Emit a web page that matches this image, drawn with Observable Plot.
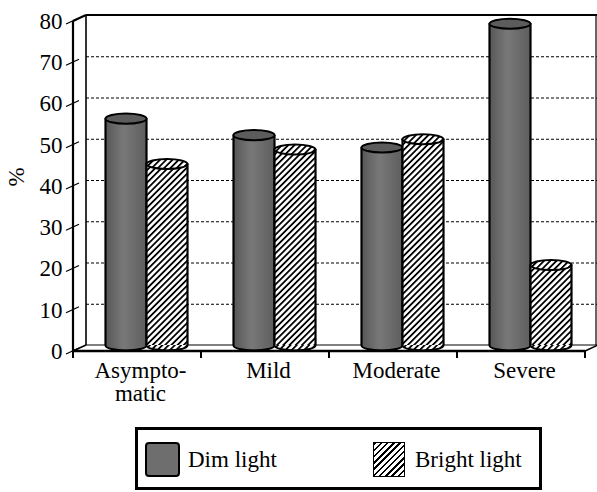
<!DOCTYPE html>
<html><head><meta charset="utf-8">
<script src="https://cdn.jsdelivr.net/npm/d3@7"></script>
<script src="https://cdn.jsdelivr.net/npm/@observablehq/plot@0.6"></script>
<style>
body{margin:0;background:#fff;font-family:"Liberation Serif","Times New Roman",Tinos,"DejaVu Serif",serif;}
#chart svg{display:block}
#legend{position:relative;margin-left:135px;margin-top:7px;width:407px;height:63px;box-sizing:border-box;border:3px solid #000;background:#fff;font-size:23px;color:#000}
.sw{position:absolute;top:12px;height:35px;box-sizing:border-box}
.dim{left:7px;width:35px;background:#6e6e6e;border:2.5px solid #000;border-radius:4px}
.bright{left:235px;width:32px;border:1px solid #000;background:repeating-linear-gradient(135deg,#000 0 1.8px,#fff 1.8px 4.4px)}
.lt{position:absolute;top:12px;line-height:35px;white-space:nowrap}
</style></head>
<body>
<div id="chart"></div>
<div id="legend">
  <div class="sw dim"></div><div class="lt" style="left:50px">Dim light</div>
  <div class="sw bright"></div><div class="lt" style="left:277px">Bright light</div>
</div>
<script>
const categories = ["Asymptomatic", "Mild", "Moderate", "Severe"];
const categoryLabels = ["Asympto-\nmatic", "Mild", "Moderate", "Severe"];
const dimLight = [55, 51, 48, 78];
const brightLight = [44, 47.5, 50, 19.5];
const yTicks = [0, 10, 20, 30, 40, 50, 60, 70, 80];

const FONT = '"Liberation Serif","Times New Roman",Tinos,"DejaVu Serif",serif';
const DX = 13, DY = -6;           // depth of the 3D box
const BAR_W = 41, SHIFT = 9;      // cylinder width, offset of the pair
const dimData = categories.map((c, i) => ({c, v: dimLight[i]}));
const brightData = categories.map((c, i) => ({c, v: brightLight[i]}));

const ellipse = {
  draw(ctx, size) {
    const rx = Math.sqrt(size / Math.PI), ry = rx * 0.245, k = 0.5523;
    ctx.moveTo(rx, 0);
    ctx.bezierCurveTo(rx, k * ry, k * rx, ry, 0, ry);
    ctx.bezierCurveTo(-k * rx, ry, -rx, k * ry, -rx, 0);
    ctx.bezierCurveTo(-rx, -k * ry, -k * rx, -ry, 0, -ry);
    ctx.bezierCurveTo(k * rx, -ry, rx, -k * ry, rx, 0);
    ctx.closePath();
  }
};

function walls(index, scales, values, dim) {
  const y = scales.y, x = scales.x;
  const x0 = dim.marginLeft, x1 = dim.width - dim.marginRight;
  const yb = y(0), yt = y(80);
  const g = d3.create("svg:g").attr("fill", "none").attr("stroke", "#000");
  const line = (a, b, c, d, w) => g.append("line").attr("x1", a).attr("y1", b).attr("x2", c).attr("y2", d).attr("stroke-width", w);
  // back wall
  line(x0 + DX, yt + DY, x1 + DX, yt + DY, 2.2);
  line(x0 + DX, yt + DY, x0 + DX, yb + DY, 1.6);
  line(x1 + DX - 2, yt + DY, x1 + DX - 2, yb + DY, 1.2);
  // floor
  line(x0 + DX, yb + DY, x1 + DX, yb + DY, 1);
  line(x0, yb, x0 + DX, yb + DY, 1.5);
  line(x1, yb, x1 + DX, yb + DY, 1.5);
  // front axis
  line(x0, yt, x0, yb, 2.2);
  line(x0, yt, x0 + DX, yt + DY, 2.2);
  // y ticks (slanted)
  for (const t of yTicks) line(x0 - 7, y(t) + 3, x0 + 6, y(t) - 3, 1.3);
  return g.node();
}

function frontFloor(index, scales, values, dim) {
  const x = scales.x, yb = scales.y(0);
  const x0 = dim.marginLeft, x1 = dim.width - dim.marginRight;
  const g = d3.create("svg:g").attr("fill", "none").attr("stroke", "#000");
  g.append("line").attr("x1", x0 - 1).attr("y1", yb).attr("x2", x1).attr("y2", yb).attr("stroke-width", 2.5);
  const bounds = categories.map(c => x(c)).concat([x1]);
  for (const b of bounds) g.append("line").attr("x1", b).attr("y1", yb).attr("x2", b).attr("y2", yb + 7).attr("stroke-width", 2);
  return g.node();
}

function cylinder(data, dx, fill, topFill) {
  return [
    Plot.dot(data, {x: "c", y: () => 0, r: BAR_W / 2, symbol: ellipse, fill, stroke: "#000", strokeWidth: 2, dx, dy: DY}),
    Plot.barY(data, {x: "c", y: "v", fill, insetLeft: 43.5, insetRight: 43.5, dx, dy: DY}),
    Plot.ruleX(data, {x: "c", y1: () => 0, y2: "v", stroke: "#000", strokeWidth: 2.2, dx: dx - BAR_W / 2, dy: DY}),
    Plot.ruleX(data, {x: "c", y1: () => 0, y2: "v", stroke: "#000", strokeWidth: 2.2, dx: dx + BAR_W / 2, dy: DY}),
    Plot.dot(data, {x: "c", y: "v", r: BAR_W / 2, symbol: ellipse, fill: topFill, stroke: "#000", strokeWidth: 2, dx, dy: DY})
  ];
}

const chart = Plot.plot({
  width: 597,
  height: 420,
  marginTop: 21,
  marginBottom: 69,
  marginLeft: 73,
  marginRight: 12,
  style: {fontFamily: FONT, fontSize: "23px", background: "white", overflow: "visible", color: "#000"},
  x: {domain: categories, padding: 0, axis: null},
  y: {domain: [0, 80], axis: null},
  marks: [
    Plot.ruleY(yTicks.filter(t => t > 0 && t < 80), {y: d => d, dx: DX, dy: DY, stroke: "#000", strokeWidth: 1, strokeDasharray: "3,2"}),
    walls,
    ...cylinder(dimData, SHIFT - BAR_W / 2, "url(#dimGrad)", "#5c5c5c"),
    ...cylinder(brightData, SHIFT + BAR_W / 2, "url(#hatch)", "url(#hatch)"),
    frontFloor,
    Plot.text(yTicks, {y: d => d, text: d => String(d), frameAnchor: "left", textAnchor: "end", dx: -11, fill: "#000"}),
    Plot.text(categories, {x: d => d, y: () => 0, text: (d, i) => categoryLabels[i], lineAnchor: "top", lineHeight: 1, dy: 10, dx: 3, fill: "#000"}),
    Plot.text(["%"], {frameAnchor: "left", text: d => d, rotate: -90, dx: -57, fill: "#000"})
  ]
});

const defs = d3.select(chart).insert("defs", ":first-child");
const grad = defs.append("linearGradient").attr("id", "dimGrad").attr("x1", "0").attr("x2", "1").attr("y1", "0").attr("y2", "0");
grad.append("stop").attr("offset", "0").attr("stop-color", "#575757");
grad.append("stop").attr("offset", "0.45").attr("stop-color", "#787878");
grad.append("stop").attr("offset", "1").attr("stop-color", "#5e5e5e");
const pat = defs.append("pattern").attr("id", "hatch").attr("patternUnits", "userSpaceOnUse")
  .attr("width", 4.4).attr("height", 4.4).attr("patternTransform", "rotate(45)");
pat.append("rect").attr("width", 4.4).attr("height", 4.4).attr("fill", "#fff");
pat.append("rect").attr("width", 1.8).attr("height", 4.4).attr("fill", "#000");

document.getElementById("chart").appendChild(chart);
</script>
</body></html>
